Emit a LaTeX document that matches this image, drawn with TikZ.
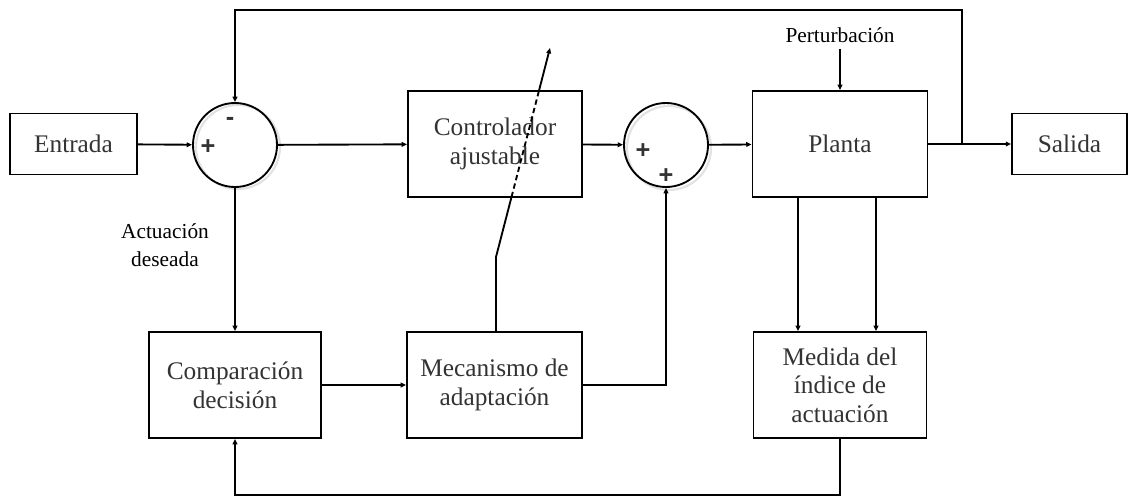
\documentclass[tikz,border=0pt]{standalone}
\usepackage{fontspec}
\setmainfont{Liberation Serif}
\newfontfamily\signfont{Liberation Sans}
\usetikzlibrary{arrows.meta}
\definecolor{txtgray}{HTML}{333333}
\definecolor{shadowgray}{HTML}{E2E2E2}
\begin{document}
\begin{tikzpicture}[x=0.75pt,y=-0.75pt, line width=1.4pt,
  blk/.style={draw, rectangle, inner sep=0pt, align=center, text=txtgray,
    font=\fontsize{19}{21.5}\selectfont},
  sumnode/.style={draw, circle, inner sep=0pt, minimum size=63pt},
  sign/.style={font=\signfont\bfseries\fontsize{19}{19}\selectfont, text=txtgray, inner sep=0pt},
  lbl/.style={align=center, font=\fontsize{16}{21}\selectfont, inner sep=0pt},
  arr/.style={-{Triangle[length=4pt,width=3.5pt]}},
  sh/.style={draw=shadowgray, line width=1.6pt}]
\useasboundingbox (0,0) rectangle (1137,500);

% blocks
\node[blk, minimum width=95.25pt, minimum height=45.75pt] (entrada) at (73.5,144) {Entrada};
\node[blk, minimum width=130.5pt, minimum height=79.5pt] (ctrl) at (495,144) {Controlador\\ajustable};
\node[blk, minimum width=131.25pt, minimum height=79.5pt] (planta) at (840,144) {Planta};
\node[blk, minimum width=86.25pt, minimum height=45.75pt] (salida) at (1069.5,144) {Salida};
\node[blk, minimum width=129pt, minimum height=79.5pt] (comp) at (235,385) {Comparación\\decisión};
\node[blk, minimum width=131.25pt, minimum height=79.5pt] (meca) at (494.5,385) {Mecanismo de\\adaptación};
\node[blk, minimum width=129.75pt, minimum height=79.5pt] (medida) at (840,385) {Medida del\\índice de\\actuación};

% summing junctions with a faint shadow
\draw[sh] (238,147) circle (31.5pt);
\draw[sh] (669,148) circle (31.5pt);
\node[sumnode] (s1) at (235,145) {};
\node[sumnode] (s2) at (666,145) {};
\node[sign] (s1m) at (230,121) {-};
\node[sign] (s1p) at (208,147) {+};
\node[sign] (s2p) at (643,151) {+};
\node[sign] (s2q) at (666,176) {+};

% labels
\node[lbl] (pert) at (840,35) {Perturbación};
\node[lbl] (actu) at (165,245) {Actuación\\deseada};

% forward path
\draw[arr] (entrada) -- (s1);
\draw[arr] (s1) -- (ctrl);
\draw[arr] (ctrl) -- (s2);
\draw[arr] (s2) -- (planta);
\draw[arr] (planta) -- (salida);
\draw[arr] ([yshift=-4pt]pert.south) -- (planta.north);

% output feedback to the first junction
\coordinate (j) at (962,144);
\coordinate (tr) at (962,10);
\draw[arr] (j) -- (tr) -| (s1.north);

% adaptation loop
\draw[arr] (s1.south) -- (s1.south |- comp.north);
\draw[arr] (comp) -- (meca);
\draw[arr] (meca.east) -| (s2.south);
\draw[arr] ([xshift=-31.5pt]planta.south) -- ([xshift=-31.5pt]medida.north);
\draw[arr] ([xshift=27pt]planta.south) -- ([xshift=27pt]medida.north);
\coordinate (fb) at (840,495);
\draw[arr] (medida.south) -- (fb) -| (comp.south);

% adjustment arrow across the controller
\coordinate (k) at (496,257);
\coordinate (b1) at (511.5,197);
\coordinate (b2) at (538.9,91);
\coordinate (tip) at (550,48);
\draw (meca.north -| k) -- (k) -- (b1);
\draw[dash pattern=on 4pt off 2.5pt] (b1) -- (b2);
\draw[arr] (b2) -- (tip);
\end{tikzpicture}
\end{document}
